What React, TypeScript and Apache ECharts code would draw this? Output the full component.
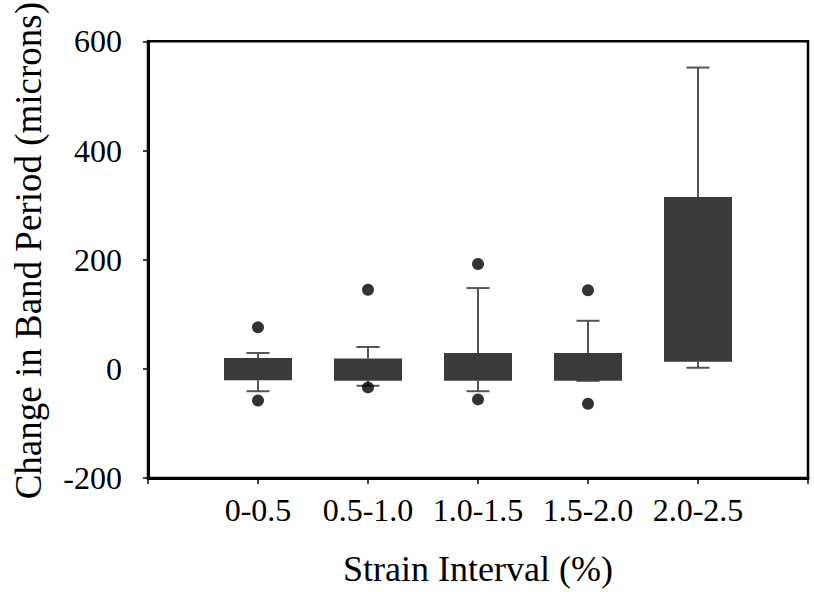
import React, { useEffect, useRef } from "react";
import * as echarts from "echarts";

const categories = ["0-0.5", "0.5-1.0", "1.0-1.5", "1.5-2.0", "2.0-2.5"];
const whiskerLow = [-41, -31, -41, -22, 2];
const q1 = [-21, -22, -22, -22, 13];
const q3 = [20, 19, 29, 29, 315];
const whiskerHigh = [29, 40, 148, 88, 552];
const outlierHigh: (number | null)[] = [76, 145, 192, 144, null];
const outlierLow: (number | null)[] = [-58, -34, -56, -64, null];
const yTicks = { min: -200, max: 600, interval: 200 };

const FONT = "'Liberation Serif', 'Times New Roman', serif";

export default function App() {
  const ref = useRef<HTMLDivElement>(null);
  useEffect(() => {
    if (!ref.current) return;
    const chart = echarts.init(ref.current, null, { renderer: "svg" });

    const boxData = categories.map((_, i) => [i + 1, whiskerLow[i], q1[i], q3[i], whiskerHigh[i]]);
    const outlierData: number[][] = [];
    categories.forEach((_, i) => {
      if (outlierHigh[i] != null) outlierData.push([i + 1, outlierHigh[i] as number]);
      if (outlierLow[i] != null) outlierData.push([i + 1, outlierLow[i] as number]);
    });

    const boxW = 68;
    const capW = 23;
    const boxColor = "#3b3b3b";
    const whiskerColor = "#555";

    chart.setOption({
      animation: false,
      grid: {
        left: 148,
        right: 6,
        top: 35,
        bottom: 112,
        show: true,
        borderColor: "#000",
        borderWidth: 2.5,
        backgroundColor: "transparent",
      },
      xAxis: {
        type: "value",
        min: 0,
        max: 6,
        interval: 1,
        name: "Strain Interval (%)",
        nameLocation: "middle",
        nameGap: 73,
        nameTextStyle: { fontFamily: FONT, fontSize: 36, color: "#000" },
        axisLine: { show: true, onZero: false, lineStyle: { color: "#000", width: 3 } },
        axisTick: { show: true, length: 6, lineStyle: { color: "#000", width: 1.5 } },
        splitLine: { show: false },
        axisLabel: {
          fontFamily: FONT,
          fontSize: 32,
          color: "#000",
          margin: 16,
          formatter: (v: number) => categories[v - 1] ?? "",
        },
      },
      yAxis: {
        type: "value",
        min: yTicks.min,
        max: yTicks.max,
        interval: yTicks.interval,
        name: "Change in Band Period (microns)",
        nameLocation: "middle",
        nameGap: 101,
        nameTextStyle: { fontFamily: FONT, fontSize: 37, color: "#000", padding: [0, 0, 0, 18] },
        axisLine: { show: true, lineStyle: { color: "#000", width: 3 } },
        axisTick: { show: true, length: 5, lineStyle: { color: "#000", width: 1.5 } },
        splitLine: { show: false },
        axisLabel: { fontFamily: FONT, fontSize: 32, color: "#000", margin: 26 },
      },
      series: [
        {
          type: "custom",
          data: boxData,
          encode: { x: 0, y: [1, 2, 3, 4] },
          renderItem: (params: any, api: any) => {
            const x = api.value(0);
            const pLow = api.coord([x, api.value(1)]);
            const pQ1 = api.coord([x, api.value(2)]);
            const pQ3 = api.coord([x, api.value(3)]);
            const pHigh = api.coord([x, api.value(4)]);
            const cx = pQ1[0];
            const lineStyle = { stroke: whiskerColor, lineWidth: 2 };
            return {
              type: "group",
              children: [
                { type: "line", shape: { x1: cx, y1: pHigh[1], x2: cx, y2: pQ3[1] }, style: lineStyle },
                { type: "line", shape: { x1: cx, y1: pQ1[1], x2: cx, y2: pLow[1] }, style: lineStyle },
                { type: "line", shape: { x1: cx - capW / 2, y1: pHigh[1], x2: cx + capW / 2, y2: pHigh[1] }, style: lineStyle },
                { type: "line", shape: { x1: cx - capW / 2, y1: pLow[1], x2: cx + capW / 2, y2: pLow[1] }, style: lineStyle },
                {
                  type: "rect",
                  shape: { x: cx - boxW / 2, y: pQ3[1], width: boxW, height: pQ1[1] - pQ3[1] },
                  style: { fill: boxColor },
                },
              ],
            };
          },
        },
        {
          type: "scatter",
          data: outlierData,
          symbol: "circle",
          symbolSize: 12,
          itemStyle: { color: "#000" },
          z: 5,
        },
      ],
    });
    return () => chart.dispose();
  }, []);
  return (
    <div
      ref={ref}
      style={{ position: "absolute", left: 0, top: 0, width: 814, height: 592, background: "#fff" }}
    />
  );
}
